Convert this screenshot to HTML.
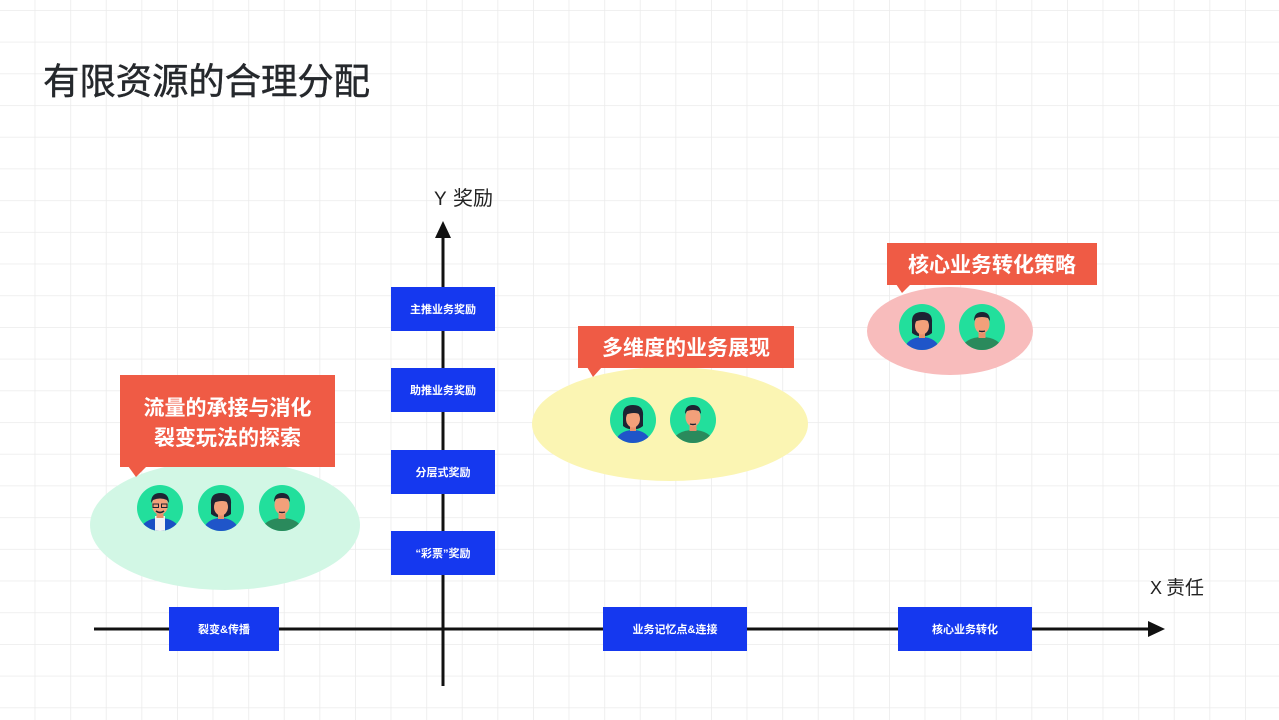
<!DOCTYPE html>
<html><head><meta charset="utf-8"><style>
html,body{margin:0;padding:0;background:#fff;}
svg{display:block;}
text{font-family:"Liberation Sans","Noto Sans CJK SC",sans-serif;}
</style></head><body>
<svg width="1279" height="720" viewBox="0 0 1279 720" xmlns="http://www.w3.org/2000/svg">
<defs>
<pattern id="grid" x="-1" y="10" width="35.6" height="31.7" patternUnits="userSpaceOnUse">
<path d="M0 0V31.7M0 0H35.6" stroke="#ebebeb" stroke-width="1.6" fill="none"/>
</pattern>
<clipPath id="cc"><circle cx="0" cy="0" r="23"/></clipPath>
<g id="man1">
<circle r="23" fill="#22df9c"/>
<g clip-path="url(#cc)">
<ellipse cx="0" cy="22" rx="19" ry="12" fill="#1c4fc4"/>
<rect x="-5" y="8" width="10" height="20" fill="#f3f3f3"/>
<rect x="-3.5" y="3" width="7" height="7" fill="#e8906a"/>
<ellipse cx="0" cy="-3" rx="8" ry="9.5" fill="#f2a07a"/>
<path d="M-9 -5 Q-9 -15 0 -15 Q9 -15 9 -5 L7 -8 Q0 -11 -7 -8Z" fill="#1d2433"/>
<rect x="-7" y="-4" width="5.5" height="3.5" fill="none" stroke="#1d2433" stroke-width="1"/>
<rect x="1.5" y="-4" width="5.5" height="3.5" fill="none" stroke="#1d2433" stroke-width="1"/>
<path d="M-4 3 Q0 6 4 3" stroke="#1d2433" stroke-width="1.6" fill="none"/>
</g></g>
<g id="woman">
<circle r="23" fill="#22df9c"/>
<g clip-path="url(#cc)">
<ellipse cx="0" cy="22" rx="17" ry="12" fill="#1f55c9"/>
<path d="M-10 -4 Q-11 -15 0 -15 Q11 -15 10 -4 L10 6 Q5 10 0 9 Q-5 10 -10 6Z" fill="#1d2433"/>
<rect x="-3" y="4" width="6" height="7" fill="#e8906a"/>
<ellipse cx="0" cy="-1" rx="7" ry="8.5" fill="#f2a07a"/>
<path d="M-8 -5 Q-7 -13 0 -13 Q7 -13 8 -5 Q2 -9 -8 -5Z" fill="#1d2433"/>
</g></g>
<g id="man2">
<circle r="23" fill="#22df9c"/>
<g clip-path="url(#cc)">
<ellipse cx="0" cy="22" rx="20" ry="12" fill="#2a8a5c"/>
<rect x="-3.5" y="3" width="7" height="8" fill="#e8906a"/>
<ellipse cx="0" cy="-3" rx="7.5" ry="9.5" fill="#f2a07a"/>
<path d="M-8 -6 Q-8 -15 0 -15 Q8 -15 8 -6 L6 -9 Q0 -11 -6 -9Z" fill="#1d2433"/>
<path d="M-3 4 Q0 5 3 4" stroke="#1d2433" stroke-width="1.4" fill="none"/>
</g></g>
</defs>
<rect width="1279" height="720" fill="#fff"/>
<rect width="1279" height="720" fill="url(#grid)"/>

<text x="43" y="94" font-size="36.5" fill="#25282c" stroke="#25282c" stroke-width="0.4" textLength="327" lengthAdjust="spacing">有限资源的合理分配</text>

<!-- ellipses -->
<ellipse cx="225" cy="525" rx="135" ry="65" fill="#d2f7e5"/>
<ellipse cx="670" cy="424" rx="138" ry="57" fill="#fbf5b3"/>
<ellipse cx="950" cy="331" rx="83" ry="44" fill="#f8bcbc"/>

<!-- callouts -->
<rect x="120" y="375" width="215" height="92" fill="#ef5b45"/>
<polygon points="128,466 147,466 136,477" fill="#ef5b45"/>
<text x="227.5" y="415" font-size="21" font-weight="bold" fill="#fff" text-anchor="middle">流量的承接与消化</text>
<text x="227.5" y="445" font-size="21" font-weight="bold" fill="#fff" text-anchor="middle">裂变玩法的探索</text>

<rect x="578" y="326" width="216" height="42" fill="#ef5b45"/>
<polygon points="587,367 602,367 593,377" fill="#ef5b45"/>
<text x="686" y="355" font-size="21" font-weight="bold" fill="#fff" text-anchor="middle">多维度的业务展现</text>

<rect x="887" y="243" width="210" height="42" fill="#ef5b45"/>
<polygon points="896,284 911,284 902,293" fill="#ef5b45"/>
<text x="992" y="272" font-size="21" font-weight="bold" fill="#fff" text-anchor="middle">核心业务转化策略</text>

<!-- avatars -->
<use href="#man1" x="160" y="508"/>
<use href="#woman" x="221" y="508"/>
<use href="#man2" x="282" y="508"/>
<use href="#woman" x="633" y="420"/>
<use href="#man2" x="693" y="420"/>
<use href="#woman" x="922" y="327"/>
<use href="#man2" x="982" y="327"/>

<!-- axes -->
<line x1="443" y1="236" x2="443" y2="686" stroke="#111" stroke-width="3"/>
<polygon points="443,221 435,238 451,238" fill="#111"/>
<line x1="94" y1="629" x2="1150" y2="629" stroke="#111" stroke-width="3"/>
<polygon points="1165,629 1148,621 1148,637" fill="#111"/>

<text x="434" y="205" font-size="19" fill="#222">Y</text>
<text x="453" y="205" font-size="20" fill="#222">奖励</text>
<text x="1150" y="594" font-size="18" fill="#222">X</text>
<text x="1166" y="594" font-size="19" fill="#222">责任</text>

<!-- blue boxes -->
<g fill="#1538ef">
<rect x="391" y="287" width="104" height="44"/>
<rect x="391" y="368" width="104" height="44"/>
<rect x="391" y="450" width="104" height="44"/>
<rect x="391" y="531" width="104" height="44"/>
<rect x="169" y="607" width="110" height="44"/>
<rect x="603" y="607" width="144" height="44"/>
<rect x="898" y="607" width="134" height="44"/>
</g>
<g font-size="11" font-weight="bold" fill="#fff" text-anchor="middle">
<text x="443" y="313">主推业务奖励</text>
<text x="443" y="394">助推业务奖励</text>
<text x="443" y="476">分层式奖励</text>
<text x="443" y="557">“彩票”奖励</text>
<text x="224" y="633">裂变&amp;传播</text>
<text x="675" y="633">业务记忆点&amp;连接</text>
<text x="965" y="633">核心业务转化</text>
</g>
</svg>
</body></html>
